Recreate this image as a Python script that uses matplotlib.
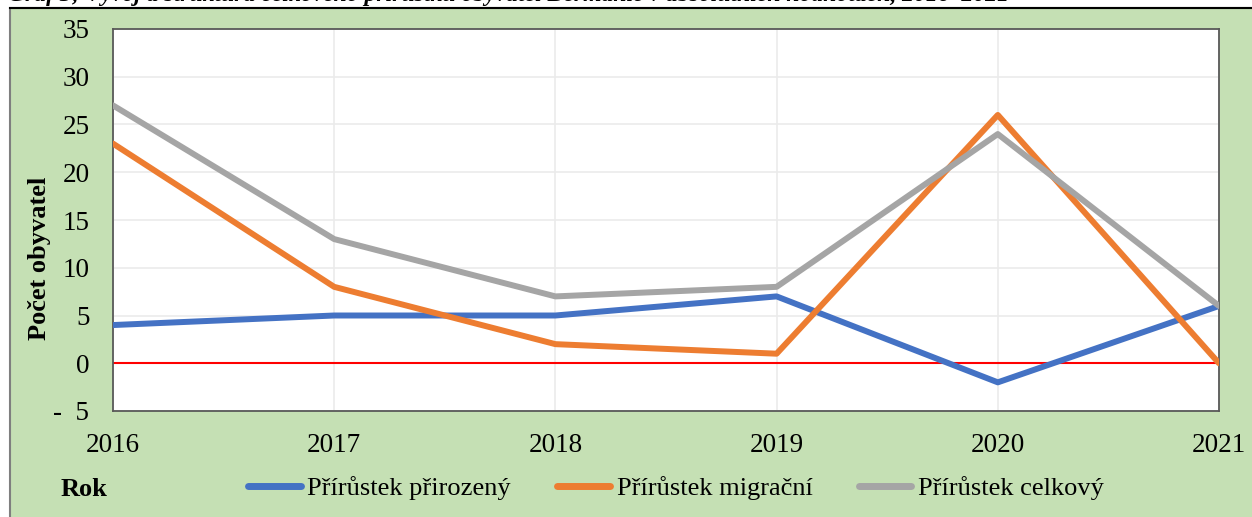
import matplotlib.pyplot as plt
from matplotlib.patches import Rectangle
from matplotlib.lines import Line2D

years = ['2016', '2017', '2018', '2019', '2020', '2021']
prirozeny = [4, 5, 5, 7, -2, 6]
migracni = [23, 8, 2, 1, 26, 0]
celkovy = [27, 13, 7, 8, 24, 6]
yticks = [-5, 0, 5, 10, 15, 20, 25, 30, 35]
ylabels = ['-  5', '0', '5', '10', '15', '20', '25', '30', '35']

plt.rcParams['font.family'] = ['Liberation Serif', 'DejaVu Serif']
W, H = 1252, 517
fig = plt.figure(figsize=(W / 100, H / 100), dpi=100)

# green chart area background
green = '#C5E0B4'
fig.patches.append(Rectangle((10 / W, -0.05), 1.1, 1 - 8 / H + 0.05, transform=fig.transFigure,
                             facecolor=green, edgecolor='#7F7F7F', linewidth=1.5, zorder=-5))
fig.add_artist(Line2D([10 / W, 1], [1 - 8 / H, 1 - 8 / H], color='black', lw=1.5,
                      transform=fig.transFigure, zorder=-4))

# cut-off caption at top
fig.text(8 / W, 1 - 6 / H, 'Graf 3; Vývoj a struktura celkového přírůstku obyvatel Bermanic v absolutních hodnotách, 2016–2021',
         fontsize=17, fontweight='bold', style='italic', ha='left', va='bottom')

ax = fig.add_axes([113 / W, 1 - 411 / H, (1219 - 113) / W, (411 - 29) / H])
ax.set_zorder(2)
ax.set_facecolor('white')
x = list(range(len(years)))
ax.axhline(0, color='red', lw=1.5, zorder=2)
ax.plot(x, prirozeny, color='#4472C4', lw=4.3, solid_capstyle='round', solid_joinstyle='round', label='Přírůstek přirozený', zorder=3)
ax.plot(x, migracni, color='#ED7D31', lw=4.3, solid_capstyle='round', solid_joinstyle='round', label='Přírůstek migrační', zorder=3)
ax.plot(x, celkovy, color='#A5A5A5', lw=4.3, solid_capstyle='round', solid_joinstyle='round', label='Přírůstek celkový', zorder=3)

ax.set_xlim(0, len(years) - 1)
ax.set_ylim(-5, 35)
ax.set_xticks(x)
ax.set_xticklabels(years)
ax.set_yticks(yticks)
ax.set_yticklabels(ylabels)
ax.tick_params(axis='both', length=0, labelsize=19.5)
ax.tick_params(axis='y', pad=17)
ax.tick_params(axis='x', pad=16)
ax.grid(True, color='#EBEBEB', lw=1.2, zorder=1)
ax.set_axisbelow(True)
for s in ax.spines.values():
    s.set_color('#595959')
    s.set_linewidth(1.3)

fig.text(40 / W, 1 - 258 / H, 'Počet obyvatel', fontsize=19, fontweight='bold',
         rotation=90, ha='center', va='center')

fig.text(84 / W, 1 - 490 / H, 'Rok', fontsize=19, fontweight='bold', ha='center', va='center')
leg = fig.legend(loc='center', bbox_to_anchor=(676 / W, 1 - 488 / H), ncol=3, frameon=False, fontsize=19,
                 handlelength=2.0, handletextpad=0.25, columnspacing=1.75)
for h in leg.legend_handles:
    h.set_linewidth(5)

plt.savefig('out.png', dpi=100)
